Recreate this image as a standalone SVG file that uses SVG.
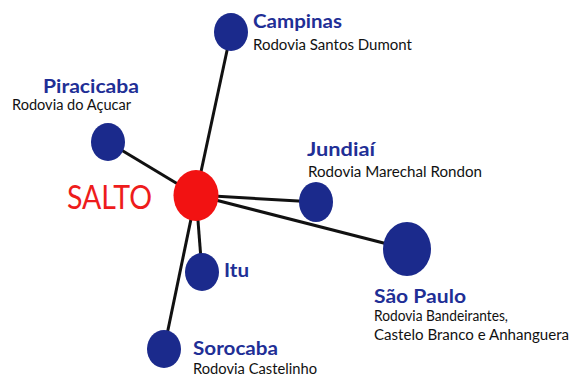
<svg xmlns="http://www.w3.org/2000/svg" width="572" height="377" viewBox="0 0 572 377">
<style>
.city{fill:#1b2a8c}
.name{font-family:Lato,"Open Sans",sans-serif;font-weight:bold;font-size:19px;fill:#1f2f96}
.road{font-family:Lato,"Open Sans",sans-serif;font-size:14.5px;fill:#111}
.edge{stroke:#111;stroke-width:3;fill:none}
</style>
<rect width="572" height="377" fill="#fff"/>
<g id="connectors">
<line class="edge" x1="196" y1="195" x2="231" y2="32"/>
<line class="edge" x1="196" y1="195" x2="108" y2="142"/>
<line class="edge" x1="196" y1="195" x2="316" y2="202"/>
<line class="edge" x1="196" y1="195" x2="407" y2="249"/>
<line class="edge" x1="196" y1="195" x2="202" y2="272"/>
<line class="edge" x1="196" y1="195" x2="164" y2="349"/>
</g>
<g id="salto">
<ellipse cx="196" cy="195.5" rx="22.5" ry="25.5" fill="#f21212"/>
<text x="67" y="209" font-family="Lato,Open Sans,sans-serif" font-size="33" fill="#ee1c1c" textLength="85" lengthAdjust="spacingAndGlyphs">SALTO</text>
</g>
<g id="campinas">
<ellipse class="city" cx="231" cy="32" rx="17" ry="19"/>
<text class="name" x="253" y="28" textLength="89" lengthAdjust="spacingAndGlyphs">Campinas</text>
<text class="road" x="253" y="50" textLength="159" lengthAdjust="spacingAndGlyphs">Rodovia Santos Dumont</text>
</g>
<g id="piracicaba">
<ellipse class="city" cx="108" cy="142" rx="17" ry="19"/>
<text class="name" x="43" y="93" textLength="96" lengthAdjust="spacingAndGlyphs">Piracicaba</text>
<text class="road" x="12" y="110" textLength="119" lengthAdjust="spacingAndGlyphs">Rodovia do Açucar</text>
</g>
<g id="jundiai">
<ellipse class="city" cx="316" cy="202" rx="17" ry="20"/>
<text class="name" x="307" y="156" textLength="68" lengthAdjust="spacingAndGlyphs">Jundiaí</text>
<text class="road" x="308" y="177" textLength="174" lengthAdjust="spacingAndGlyphs">Rodovia Marechal Rondon</text>
</g>
<g id="saopaulo">
<ellipse class="city" cx="407" cy="249" rx="24" ry="27"/>
<text class="name" x="374" y="303" textLength="92" lengthAdjust="spacingAndGlyphs">São Paulo</text>
<text class="road" x="374" y="321" textLength="134" lengthAdjust="spacingAndGlyphs">Rodovia Bandeirantes,</text>
<text class="road" x="374" y="340" textLength="195" lengthAdjust="spacingAndGlyphs">Castelo Branco e Anhanguera</text>
</g>
<g id="itu">
<ellipse class="city" cx="202" cy="272" rx="17" ry="19"/>
<text class="name" x="224" y="277" textLength="25" lengthAdjust="spacingAndGlyphs">Itu</text>
</g>
<g id="sorocaba">
<ellipse class="city" cx="164" cy="349" rx="17" ry="19"/>
<text class="name" x="193" y="355" textLength="85" lengthAdjust="spacingAndGlyphs">Sorocaba</text>
<text class="road" x="193" y="374" textLength="124" lengthAdjust="spacingAndGlyphs">Rodovia Castelinho</text>
</g>
</svg>
